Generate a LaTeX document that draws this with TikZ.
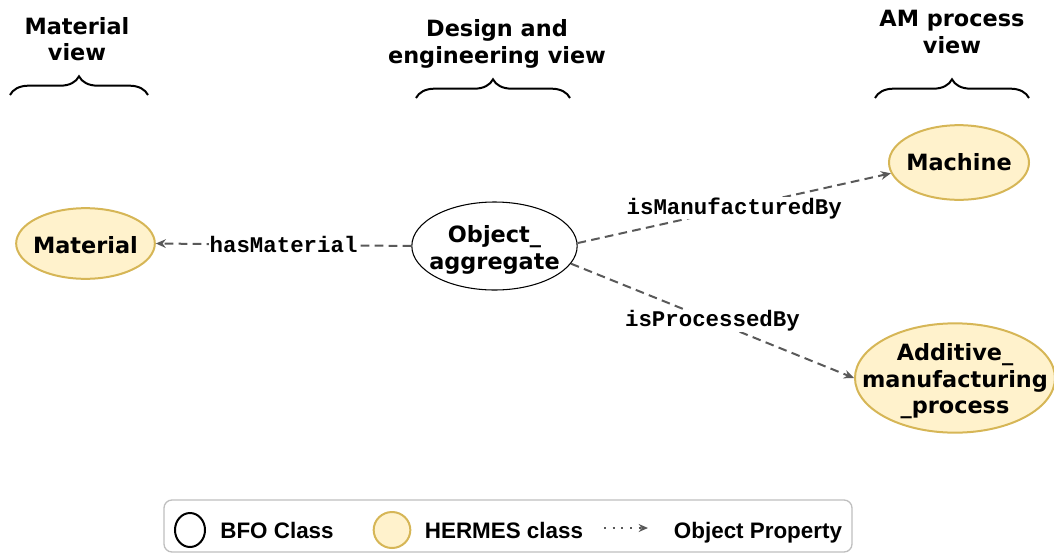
\documentclass[tikz,border=0pt]{standalone}
\usepackage{fontspec}
\setmainfont{DejaVu Sans}
\newfontfamily\legfont{Liberation Sans}
\newfontfamily\relfont{Liberation Mono}
\usepackage{xcolor}
\usetikzlibrary{positioning,arrows.meta,shapes.geometric,decorations.pathreplacing}
\definecolor{hfill}{HTML}{FFF2CC}
\definecolor{hdraw}{HTML}{D6B656}

\begin{document}
\begin{tikzpicture}[>={Stealth[length=7.5pt,width=6.5pt]},
  cls/.style={ellipse,draw=black,fill=white,line width=0.8pt,inner sep=0pt},
  hrm/.style={cls,draw=hdraw,fill=hfill,line width=1.5pt},
  txt/.style={font=\bfseries\fontsize{16.8}{20}\selectfont,align=center},
  rel/.style={->,draw=black!65,line width=1.5pt,dash pattern=on 6.5pt off 4pt},
  lbl/.style={fill=white,inner sep=0.5pt,font=\relfont\bfseries\fontsize{16.8}{20}\selectfont},
  brc/.style={decorate,decoration={brace,amplitude=14pt},line width=1.5pt},
  leg/.style={font=\legfont\bfseries\fontsize{16.8}{20}\selectfont,anchor=base},
  x=0.75pt,y=-0.75pt]
\useasboundingbox (0,0) rectangle (1054,554);
% views on top
\node[txt] (mview) at (77,39) {Material\\view};
\node[txt] (dview) at (497,44) {Design and\\engineering view};
\node[txt] (aview) at (952,32) {AM process\\view};
\foreach \v/\xa/\xb/\yb in {m/10/148/95,d/416/570/98,a/875/1029/98}{
  \coordinate (\v-l) at (\xa,\yb);
  \coordinate (\v-r) at (\xb,\yb);
  \draw[brc] (\v-l) -- (\v-r);}
% classes
\node[hrm,minimum width=104pt,minimum height=53pt,label={[txt,yshift=-1pt]center:Material}] (mat) at (85.5,243.5) {};
\node[cls,minimum width=124pt,minimum height=66pt,label={[txt,yshift=-3pt]center:{Object\_\\aggregate}}] (obj) at (494.5,246) {};
\node[hrm,minimum width=105pt,minimum height=56pt,label={[txt]center:Machine}] (mach) at (959,162.5) {};
\node[hrm,minimum width=150pt,minimum height=82pt,label={[txt,yshift=-2.5pt]center:{Additive\_\\manufacturing\\\_process}}] (amp) at (955,378) {};
% object properties
\draw[rel] (obj.west) -- node[lbl] {hasMaterial} (mat.east);
\draw[rel] (obj.2) -- node[lbl] {isManufacturedBy} (mach.189);
\draw[rel] (obj.-13) -- node[lbl] {isProcessedBy} (amp.west);
% legend
\node[draw=black!25,line width=1pt,rounded corners=6pt,minimum width=516pt,minimum height=39pt] (leg) at (508,526) {};
\node[cls,line width=1.5pt,minimum width=22.5pt,minimum height=25.5pt] (lbfo) at (190,530) {};
\node[hrm,minimum width=27.5pt,minimum height=27pt] (lhrm) at (392,530) {};
\node[leg] (tbfo) at (277,538) {BFO Class};
\node[leg] (thrm) at (504,538) {HERMES class};
\node[leg] (tprop) at (758,538) {Object Property};
\coordinate (la) at (604,528);
\coordinate (lb) at (648,528);
\draw[->,draw=black!65,line width=1.5pt,dash pattern=on 1.5pt off 5pt,>={Stealth[length=7pt,width=6pt]}] (la) -- (lb);
\end{tikzpicture}
\end{document}
